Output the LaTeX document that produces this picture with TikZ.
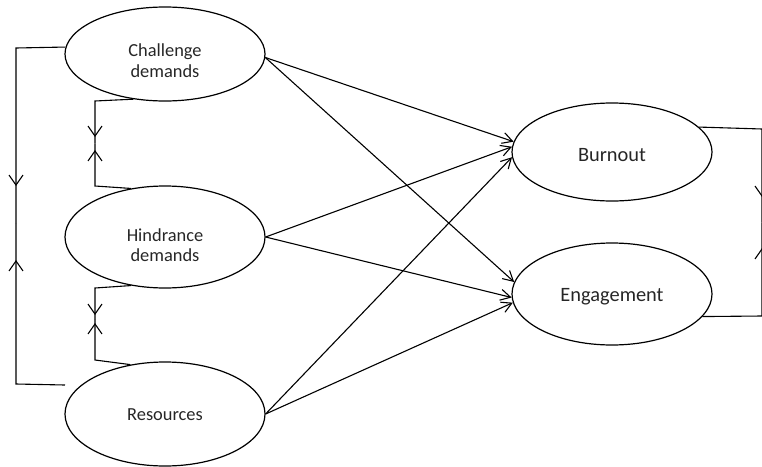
\documentclass[tikz,border=0pt]{standalone}
\usepackage{fontspec}
\setmainfont{Carlito}
\usetikzlibrary{shapes.geometric,arrows.meta,decorations.markings}
\begin{document}
\begin{tikzpicture}[x=1pt,y=-1pt,
  construct/.style={ellipse,draw,line width=1.2pt,minimum width=200pt,inner sep=0pt},
  leftlabel/.style={font=\fontsize{18.4}{22}\selectfont,text=black!85,anchor=base,inner sep=0pt},
  rightlabel/.style={font=\fontsize{20.4}{24}\selectfont,text=black!85,anchor=base,inner sep=0pt},
  link/.style={line width=1.1pt,-{Straight Barb[length=10pt,width=11pt]}},
  % half of a two-headed covariance bracket: the head sits #1 before the path end
  covhalf/.style={line width=1.1pt,postaction={decorate},
    decoration={markings,mark=at position -#1 with {\arrow{Straight Barb[length=10pt,width=14pt]}}}}
]
\useasboundingbox (0,0) rectangle (762,466);

% latent constructs
\node[construct,minimum height=94pt]  (cd)  at (165,54)  {};
\node[construct,minimum height=102pt] (hd)  at (165,237) {};
\node[construct,minimum height=104pt] (res) at (165,414) {};
\node[construct,minimum height=98pt]  (bo)  at (612,152) {};
\node[construct,minimum height=102pt] (en)  at (612,294) {};

% construct names
\path (cd.center) ++(0,2) node[leftlabel] {Challenge} ++(0,21.5) node[leftlabel] {demands};
\path (hd.center) ++(0,4.7) node[leftlabel] {Hindrance} ++(0,20) node[leftlabel] {demands};
\path (res.center) ++(0,6) node[leftlabel] {Resources};
\path (bo.center) ++(0,9.7) node[rightlabel] {Burnout};
\path (en.center) ++(0,7) node[rightlabel] {Engagement};

% structural paths
\draw[link] (cd.358) -- (bo.174);
\draw[link] (cd.358) -- (en.173);
\draw[link] (hd.east) -- (bo.177);
\draw[link] (hd.east) -- (en.182);
\draw[link] (res.east) -- (bo.183);
\draw[link] (res.east) -- (en.185);

% covariance between challenge demands and resources
\coordinate (om) at (16,223);
\coordinate (oend) at (65,385);
\draw[covhalf=37pt] (cd.176) -- (16,48) -- (om);
\draw[covhalf=37pt] (oend) -- (16,384) -- (om);

% covariance between challenge and hindrance demands
\coordinate (im) at (95,143.5);
\draw[covhalf=6.5pt] (cd.235) -- (95,101) -- (im);
\draw[covhalf=6.5pt] (hd.125) -- (95,186) -- (im);

% covariance between hindrance demands and resources
\coordinate (jm) at (95,319);
\draw[covhalf=4pt] (hd.235) -- (95,288) -- (jm);
\draw[covhalf=4pt] (res.125) -- (95,360) -- (jm);

% covariance between burnout and engagement
\coordinate (rm) at (762,222.5);
\draw[covhalf=25.5pt] (bo.16) -- (762,129) -- (rm);
\draw[covhalf=25.5pt] (en.346) -- (762,316) -- (rm);
\end{tikzpicture}
\end{document}
